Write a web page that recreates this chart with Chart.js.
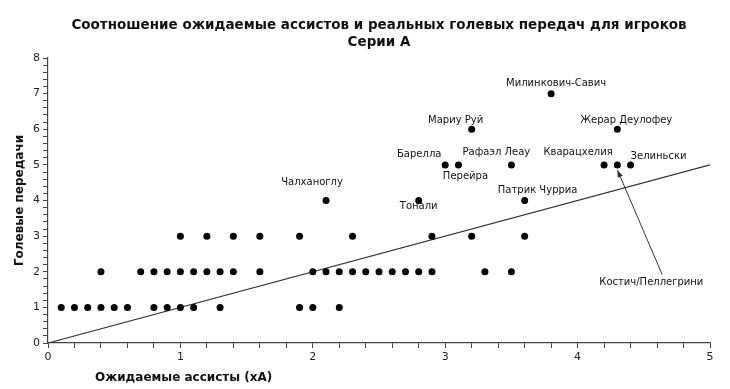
<!DOCTYPE html>
<html>
<head>
<meta charset="utf-8">
<script src="https://cdn.jsdelivr.net/npm/chart.js@4/dist/chart.umd.min.js"></script>
<style>
  html, body { margin: 0; padding: 0; background: #fff; }
  #wrap { width: 730px; height: 389px; }
</style>
</head>
<body>
<div id="wrap"><canvas id="scatterChart"></canvas></div>
<script>
// expected assists (xA) and real assists, one entry per player
const expectedAssists = [
  0.1, 0.2, 0.3, 0.4, 0.5, 0.6, 0.8, 0.9, 1.0, 1.1, 1.3, 1.9, 2.0, 2.2,
  0.4, 0.7, 0.8, 0.9, 1.0, 1.1, 1.2, 1.3, 1.4, 1.6, 2.0, 2.1, 2.2, 2.3, 2.4, 2.5, 2.6, 2.7, 2.8, 2.9, 3.3, 3.5,
  1.0, 1.2, 1.4, 1.6, 1.9, 2.3, 2.9, 3.2, 3.6,
  2.1, 2.8, 3.6,
  3.0, 3.1, 3.5, 4.2, 4.3, 4.4,
  3.2, 4.3,
  3.8
];
const realAssists = [
  1, 1, 1, 1, 1, 1, 1, 1, 1, 1, 1, 1, 1, 1,
  2, 2, 2, 2, 2, 2, 2, 2, 2, 2, 2, 2, 2, 2, 2, 2, 2, 2, 2, 2, 2, 2,
  3, 3, 3, 3, 3, 3, 3, 3, 3,
  4, 4, 4,
  5, 5, 5, 5, 5, 5,
  6, 6,
  7
];

// named players
const playerNames = [
  'Чалханоглу', 'Тонали', 'Барелла', 'Перейра', 'Рафаэл Леау', 'Мариу Руй',
  'Милинкович-Савич', 'Жерар Деулофеу', 'Кварацхелия', 'Зелиньски', 'Патрик Чурриа',
  'Костич/Пеллегрини'
];
const playerXA = [2.1, 2.8, 3.0, 3.1, 3.5, 3.2, 3.8, 4.3, 4.2, 4.4, 3.6, 4.3];
const playerAssists = [4, 4, 5, 5, 5, 6, 7, 6, 5, 5, 4, 5];

const refLineX = [0, 5]; // y = x
const xTickStep = 0.2;
const yTickStep = 0.2;

const titleLines = ['Соотношение ожидаемые ассистов и реальных голевых передач для игроков', 'Серии А'];

// label offsets from the point, in pixels (layout only)
const labelOffsets = {
  'Чалханоглу': [-14, -18],
  'Тонали': [0, 6],
  'Барелла': [-26, -10],
  'Перейра': [7, 12],
  'Рафаэл Леау': [-15, -12],
  'Мариу Руй': [-16, -9],
  'Милинкович-Савич': [5, -10],
  'Жерар Деулофеу': [9, -9],
  'Кварацхелия': [-26, -12],
  'Зелиньски': [28, -8],
  'Патрик Чурриа': [13, -10],
  'Костич/Пеллегрини': [34, 118]
};

const FONT = 'DejaVu Sans, Verdana, sans-serif';

const isInt = v => Math.abs(v - Math.round(v)) < 1e-6;

const playerLabels = {
  id: 'playerLabels',
  afterDatasetsDraw(chart) {
    const { ctx, scales: { x, y } } = chart;
    ctx.save();
    ctx.font = '10px ' + FONT;
    ctx.fillStyle = '#111';
    ctx.textAlign = 'center';
    ctx.textBaseline = 'middle';
    playerNames.forEach((name, i) => {
      const px = x.getPixelForValue(playerXA[i]);
      const py = y.getPixelForValue(playerAssists[i]);
      const [dx, dy] = labelOffsets[name];
      const lx = px + dx, ly = py + dy;
      ctx.fillText(name, lx, ly);
      if (name === 'Костич/Пеллегрини') {
        // arrow from label to point
        const sx = lx + 11, sy = ly - 8;
        const ex = px, ey = py + 5;
        ctx.strokeStyle = '#333';
        ctx.lineWidth = 1;
        ctx.beginPath();
        ctx.moveTo(sx, sy);
        ctx.lineTo(ex, ey);
        ctx.stroke();
        const ang = Math.atan2(ey - sy, ex - sx);
        ctx.beginPath();
        ctx.moveTo(ex, ey);
        ctx.lineTo(ex - 8 * Math.cos(ang - 0.35), ey - 8 * Math.sin(ang - 0.35));
        ctx.lineTo(ex - 8 * Math.cos(ang + 0.35), ey - 8 * Math.sin(ang + 0.35));
        ctx.closePath();
        ctx.fillStyle = '#333';
        ctx.fill();
        ctx.fillStyle = '#111';
      }
    });
    ctx.restore();
  }
};

// title centred over the plot area, x axis title left of centre, as in the original
const chartTexts = {
  id: 'chartTexts',
  afterDraw(chart) {
    const { ctx, chartArea } = chart;
    const w = chartArea.right - chartArea.left;
    ctx.save();
    ctx.fillStyle = '#111';
    ctx.textAlign = 'center';
    ctx.textBaseline = 'middle';
    ctx.font = 'bold 13.5px ' + FONT;
    const cx = chartArea.left + w / 2;
    ctx.fillText(titleLines[0], cx, 25);
    ctx.fillText(titleLines[1], cx, 42);
    ctx.font = 'bold 12px ' + FONT;
    ctx.fillText('Ожидаемые ассисты (xA)', chartArea.left + w * 0.205, 378);
    ctx.restore();
  }
};

const ctx = document.getElementById('scatterChart').getContext('2d');

new Chart(ctx, {
  type: 'scatter',
  data: {
    datasets: [
      {
        label: 'Игроки',
        data: expectedAssists.map((v, i) => ({ x: v, y: realAssists[i] })),
        backgroundColor: '#000',
        borderWidth: 0,
        pointRadius: 3.5
      },
      {
        type: 'line',
        label: 'y = x',
        data: refLineX.map(v => ({ x: v, y: v })),
        borderColor: '#333',
        borderWidth: 1.2,
        pointRadius: 0,
        fill: false
      }
    ]
  },
  options: {
    responsive: true,
    maintainAspectRatio: false,
    animation: false,
    layout: { padding: { left: 0, right: 20, top: 58, bottom: 0 } },
    plugins: {
      legend: { display: false },
      tooltip: { enabled: false },
      title: { display: false }
    },
    scales: {
      x: {
        type: 'linear',
        min: 0,
        max: 5,
        ticks: {
          stepSize: xTickStep,
          autoSkip: false,
          maxRotation: 0,
          color: '#222',
          padding: 3,
          font: { family: FONT, size: 11 },
          callback: v => isInt(v) ? Math.round(v) : ''
        },
        grid: { drawOnChartArea: false, tickLength: 5, tickColor: '#444' },
        border: { color: '#444', width: 1.2 },
        afterFit: s => { s.height = 46; }
      },
      y: {
        type: 'linear',
        min: 0,
        max: 8,
        ticks: {
          stepSize: yTickStep,
          autoSkip: false,
          color: '#222',
          padding: 3,
          font: { family: FONT, size: 11 },
          callback: v => isInt(v) ? Math.round(v) : ''
        },
        grid: { drawOnChartArea: false, tickLength: 5, tickColor: '#444' },
        border: { color: '#444', width: 1.2 },
        title: {
          display: true,
          text: 'Голевые передачи',
          color: '#111',
          font: { family: FONT, size: 12, weight: 'bold' },
          padding: { top: 13, bottom: 0 }
        },
        afterFit: s => { s.width = 48; }
      }
    }
  },
  plugins: [playerLabels, chartTexts]
});
</script>
</body>
</html>
